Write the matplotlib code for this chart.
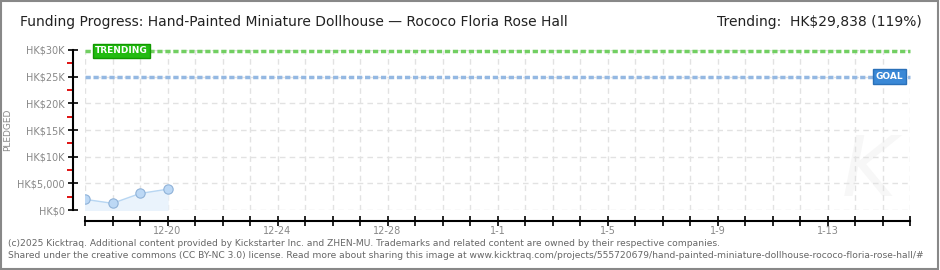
import matplotlib.pyplot as plt
import matplotlib.dates as mdates
from matplotlib.patches import Rectangle
import datetime as dt

# pledged totals per day (HK$)
days = ["2024-12-17", "2024-12-18", "2024-12-19", "2024-12-20"]
pledged = [2000, 1250, 3100, 3900]
goal = 25000
trending = 29838
y_ticks = [0, 5000, 10000, 15000, 20000, 25000, 30000]
y_labels = ["HK$0", "HK$5,000", "HK$10K", "HK$15K", "HK$20K", "HK$25K", "HK$30K"]
x_start, x_end = "2024-12-17", "2025-01-16"

dates = [dt.datetime.strptime(d, "%Y-%m-%d") for d in days]
x0 = dt.datetime.strptime(x_start, "%Y-%m-%d")
x1 = dt.datetime.strptime(x_end, "%Y-%m-%d")

fig = plt.figure(figsize=(9.4, 2.7), dpi=100)
fig.patch.set_facecolor("white")
fig.add_artist(Rectangle((0.001, 0.002), 0.997, 0.995, transform=fig.transFigure,
                         fill=False, edgecolor="#888888", linewidth=1.5))

ax = fig.add_axes([85 / 940, 60 / 270, 825 / 940, 160 / 270])
ax.set_xlim(x0, x1)
ax.set_ylim(0, 30000)

# grid
ax.xaxis.set_major_locator(mdates.DayLocator())
ax.set_yticks(y_ticks)
ax.set_yticks([2500, 7500, 12500, 17500, 22500, 27500], minor=True)
ax.grid(True, which="major", color="#e2e2e2", linestyle=(0, (4, 3)), linewidth=1)
ax.set_axisbelow(True)

# data
ax.fill_between(dates, pledged, 0, color="#eaf3fc", zorder=1)
ax.plot(dates, pledged, color="#b8d6f2", linewidth=1, zorder=2)
ax.scatter(dates, pledged, s=45, color="#bcd8f5", edgecolor="#8fb2d8", linewidth=0.8, zorder=3)

# goal and trending lines
ax.axhline(goal, color="#94b8e2", linestyle=(0, (1.5, 0.8)), linewidth=2.5, clip_on=False, zorder=2)
ax.axhline(trending, color="#72cf62", linestyle=(0, (1.5, 0.8)), linewidth=2.5, clip_on=False, zorder=2)
ax.text(dt.datetime(2024, 12, 17, 9), trending, "TRENDING", color="white", fontsize=6.5,
        fontweight="bold", va="center", ha="left",
        bbox=dict(boxstyle="square,pad=0.25", facecolor="#22bb11", edgecolor="#119900"), zorder=4)
ax.text(dt.datetime(2025, 1, 15, 18), goal, "GOAL", color="white", fontsize=6.5,
        fontweight="bold", va="center", ha="right",
        bbox=dict(boxstyle="square,pad=0.3", facecolor="#3a88d6", edgecolor="#2a70b8"), zorder=4)

# axes styling
for s in ["top", "right"]:
    ax.spines[s].set_visible(False)
ax.spines["left"].set_position(("outward", 9))
ax.spines["bottom"].set_position(("outward", 8))
ax.spines["left"].set_linewidth(1.5)
ax.spines["bottom"].set_linewidth(1.5)

ax.set_yticklabels(y_labels)
ax.tick_params(axis="y", which="major", direction="inout", length=7, width=1.2, colors="black",
               labelcolor="#888888", labelsize=7, pad=2)
ax.tick_params(axis="y", which="minor", length=4, width=1.3, color="#dd0000")
ax.tick_params(axis="x", which="major", direction="inout", length=7, width=1.2,
               labelcolor="#888888", labelsize=7, pad=0)


def fmt(x, pos):
    d = mdates.num2date(x)
    if (d.replace(tzinfo=None) - dt.datetime(2024, 12, 20)).days % 4 == 0:
        return f"{d.month}-{d.day}"
    return ""


ax.xaxis.set_major_formatter(plt.FuncFormatter(fmt))

ax.set_ylabel("PLEDGED", color="#888888", fontsize=6.5)
ax.yaxis.set_label_coords(-0.088, 0.5)

# watermark
ax.text(dt.datetime(2025, 1, 14, 12), 7000, "K", fontsize=60, color="#f7f7f7",
        style="italic", ha="center", va="center", zorder=0)

fig.text(20 / 940, 1 - 22 / 270,
         "Funding Progress: Hand-Painted Miniature Dollhouse \u2014 Rococo Floria Rose Hall",
         fontsize=10, va="center", ha="left", color="#222222")
fig.text(922 / 940, 1 - 22 / 270, "Trending:  HK$29,838 (119%)",
         fontsize=10, va="center", ha="right", color="#222222")

fig.text(8 / 940, 1 - 243 / 270,
         "(c)2025 Kicktraq. Additional content provided by Kickstarter Inc. and ZHEN-MU. "
         "Trademarks and related content are owned by their respective companies.",
         fontsize=6.6, color="#666666", va="center", ha="left")
fig.text(8 / 940, 1 - 256 / 270,
         "Shared under the creative commons (CC BY-NC 3.0) license. Read more about sharing this image at "
         "www.kicktraq.com/projects/555720679/hand-painted-miniature-dollhouse-rococo-floria-rose-hall/#",
         fontsize=6.6, color="#666666", va="center", ha="left")

fig.savefig("out.png", dpi=100)
